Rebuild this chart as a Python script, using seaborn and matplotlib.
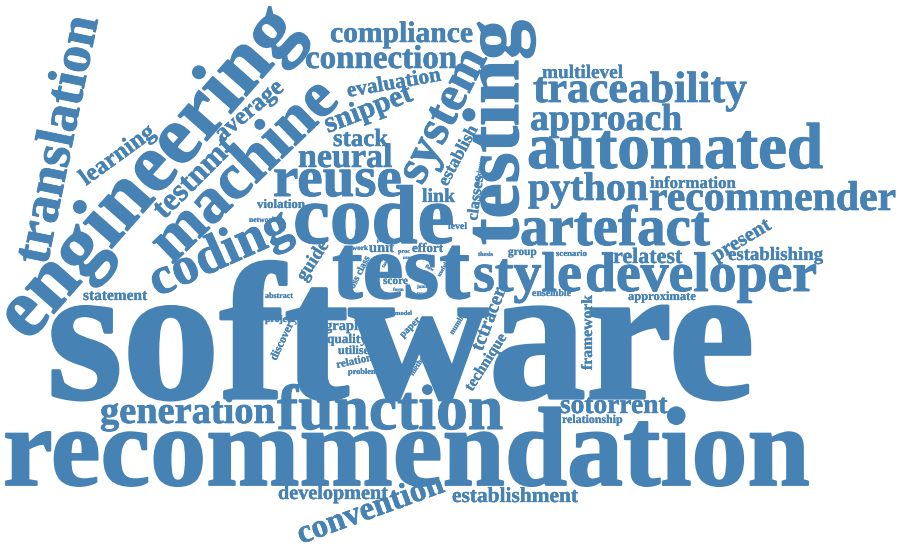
import matplotlib
matplotlib.use("Agg")
import matplotlib.pyplot as plt
import matplotlib.patheffects as pe
import seaborn as sns

# word cloud terms and their weights (em size in px)
words = [
    "software", "recommendation", "function", "generation", "development",
    "convention", "establishment", "sotorrent", "relationship", "developer",
    "style", "test", "code", "coding", "reuse", "neural", "stack", "snippet",
    "evaluation", "connection", "compliance", "testing", "system", "automated",
    "approach", "traceability", "multilevel", "python", "information",
    "recommender", "artefact", "present", "establishing", "relatest", "group",
    "scenario", "thesis", "engineering", "translation", "machine", "learning",
    "testnmt", "average", "violation", "network", "guide", "abstract",
    "project", "discovery", "graph", "quality", "utilise", "relation",
    "problem", "model", "paper", "method", "score", "unit", "work", "effort",
    "cross class", "link", "establish", "maximum", "classes", "level",
    "statement", "ensemble", "approximate", "framework", "tctracer",
    "technique", "number", "pair", "cost", "proc", "user", "form", "junit",
    "type", "flow", "useful", "task",
]
weight = [
    194, 112, 63.6, 38.4, 20.2,
    33, 21.4, 27.4, 11.9, 55.7,
    56, 92, 83, 53, 57, 34, 24.75, 29.6,
    21.4, 33, 29.6, 79.4, 50, 65,
    37.7, 43.8, 19.2, 40, 16.8,
    41.7, 57, 20.8, 18.8, 22, 11.3,
    8.7, 6.3, 83, 54, 65, 24.5,
    31.7, 24.6, 12.9, 7.6, 18.9, 8,
    9.8, 11.5, 14.5, 13.3, 12.1, 11,
    8.3, 6.5, 10, 8, 11.3, 14.5, 7.2, 13,
    10, 19.8, 17.7, 7, 16, 9.8,
    15.4, 9.9, 12.5, 15.7, 19.6,
    15.6, 8, 5, 5, 6.2, 5, 5, 5,
    5, 5, 6, 5,
]

# placement: baseline start (x, y) in image pixels and angle in degrees
layout = [
    (47, 398, 0), (3, 485, 0), (277, 429, 0), (100, 423, 0), (278, 499, 0),
    (301, 544, 20), (452, 502, 0), (560, 413, 0), (562, 423, 0), (585, 291, 0),
    (473, 291, 0), (332, 298, 0), (293, 243, 0), (157, 297, 24), (273, 196, 0),
    (298, 167, 0), (333, 146, 0), (328, 133, 21),
    (348, 97, 10), (305, 68, 0), (330, 42, 0), (518, 245, 90), (422, 186, 63),
    (527, 168, 0),
    (530, 130, 0), (533, 102, 0), (542, 78, 0), (528, 200, 0), (650, 188, 0),
    (649, 210, 0), (520, 245, 0), (716, 262, 31), (728, 260, 0), (613, 263, 0),
    (508, 255, 0),
    (556, 256, 0), (478, 256, 0), (28, 343, 48.5), (47, 266, 78.3),
    (172, 265, 44), (86, 186, 36),
    (164, 220, 45), (222, 142, 40), (257, 208, 0), (249, 222, 0),
    (305, 282, 57), (265, 298, 0),
    (265, 322, 0), (276, 361, 64.5), (325, 330, 0), (327, 343, 0),
    (338, 354, 0), (337, 368, 12),
    (348, 374, 0), (395, 315, 0), (403, 338, 45), (413, 376, 56),
    (383, 284, 0), (369, 252, 0), (352, 250, 0), (412, 252, 0),
    (350, 297, 63), (422, 202, 0), (447, 187, 62), (479, 186, 80),
    (477, 221, 82), (448, 229, 0),
    (83, 300, 0), (532, 296, 0), (628, 300, 0), (592, 370, 90),
    (482, 352, 69),
    (472, 392, 57.5), (453, 335, 58), (377, 242, 0), (401, 239, 0),
    (398, 253, 0), (403, 259, 0), (393, 291, 0), (417, 288, 0),
    (417, 295, 0), (425, 267, -30), (440, 277, 60), (384, 268, 60),
]

sns.set_style("white")
plt.rcParams["font.family"] = ["Liberation Serif", "DejaVu Serif"]

fig = plt.figure(figsize=(9, 5.47), dpi=100)
ax = fig.add_axes([0, 0, 1, 1])
ax.set_xlim(0, 900)
ax.set_ylim(547, 0)
ax.axis("off")

color = "#4682b4"
for word, w, (x, y, ang) in zip(words, weight, layout):
    # thin stroke in the same colour makes the glyphs as heavy as the original
    t = ax.text(x, y, word, fontsize=w * 0.72, fontweight="bold", color=color,
                rotation=ang, rotation_mode="anchor", ha="left", va="baseline")
    t.set_path_effects([pe.withStroke(linewidth=w * 0.012, foreground=color)])

fig.savefig("out.png", dpi=100, facecolor="white")
